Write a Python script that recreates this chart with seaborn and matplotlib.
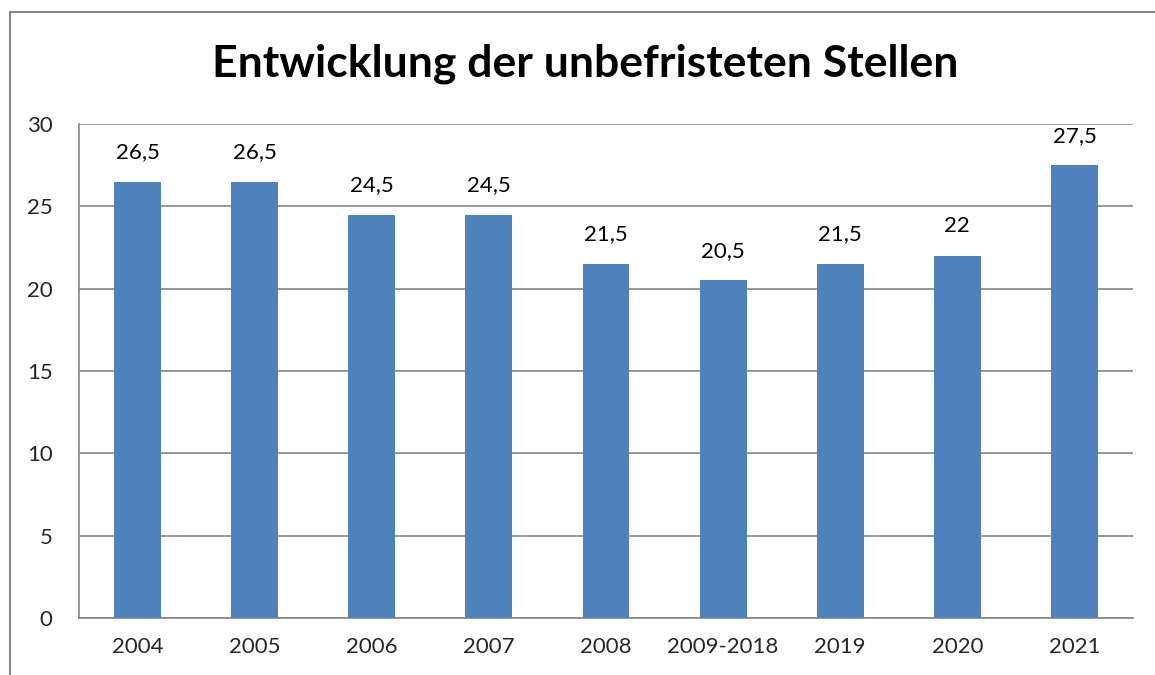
import matplotlib
matplotlib.use("Agg")
import matplotlib.pyplot as plt
import seaborn as sns
import pandas as pd
from matplotlib.lines import Line2D

categories = ["2004", "2005", "2006", "2007", "2008", "2009-2018", "2019", "2020", "2021"]
values = [26.5, 26.5, 24.5, 24.5, 21.5, 20.5, 21.5, 22, 27.5]
labels = ["26,5", "26,5", "24,5", "24,5", "21,5", "20,5", "21,5", "22", "27,5"]
yticks = [0, 5, 10, 15, 20, 25, 30]

sns.set_style("white")
plt.rcParams['font.family'] = ['Lato', 'DejaVu Sans']

W, H = 1155, 675
fig = plt.figure(figsize=(W / 100, H / 100), dpi=100)
ax = fig.add_axes([79 / W, (H - 618) / H, (1133 - 79) / W, (618 - 124) / H])

df = pd.DataFrame({"cat": categories, "val": values})
sns.barplot(data=df, x="cat", y="val", color="#4F81BD", width=0.4, saturation=1,
            linewidth=0, edgecolor="none", ax=ax, zorder=3)

ax.set_ylim(0, 30)
ax.set_xlim(-0.5, len(categories) - 0.5)
ax.set_yticks(yticks)
ax.set_yticklabels([str(t) for t in yticks])
ax.set_xlabel("")
ax.set_ylabel("")
ax.yaxis.grid(True, color="#868686", linewidth=1.2, zorder=0)
ax.set_axisbelow(True)

for s in ["top", "right"]:
    ax.spines[s].set_visible(False)
for s in ["left", "bottom"]:
    ax.spines[s].set_color("#868686")
    ax.spines[s].set_linewidth(1.2)

ax.tick_params(axis="y", which="major", length=7, width=1.2, color="#868686", labelsize=16, pad=12, direction="out")
ax.tick_params(axis="x", which="major", length=0, labelsize=16, pad=14)
ax.set_xticks([i - 0.5 for i in range(len(categories) + 1)], minor=True)
ax.tick_params(axis="x", which="minor", length=7, width=1.2, color="#868686", direction="out")

for i, (v, lab) in enumerate(zip(values, labels)):
    ax.annotate(lab, (i, v), xytext=(0, 14), textcoords="offset points",
                ha="center", va="bottom", fontsize=16, color="black")

fig.text(585 / W, (H - 64) / H, "Entwicklung der unbefristeten Stellen", ha="center", va="center",
         fontsize=32, fontweight="bold", color="black")

fig.add_artist(Line2D([10 / W, 10 / W], [0, (H - 12) / H], transform=fig.transFigure, color="#868686", linewidth=1.5))
fig.add_artist(Line2D([10 / W, 1], [(H - 12) / H, (H - 12) / H], transform=fig.transFigure, color="#868686", linewidth=1.5))

fig.savefig("out.png", dpi=100, facecolor="white")
